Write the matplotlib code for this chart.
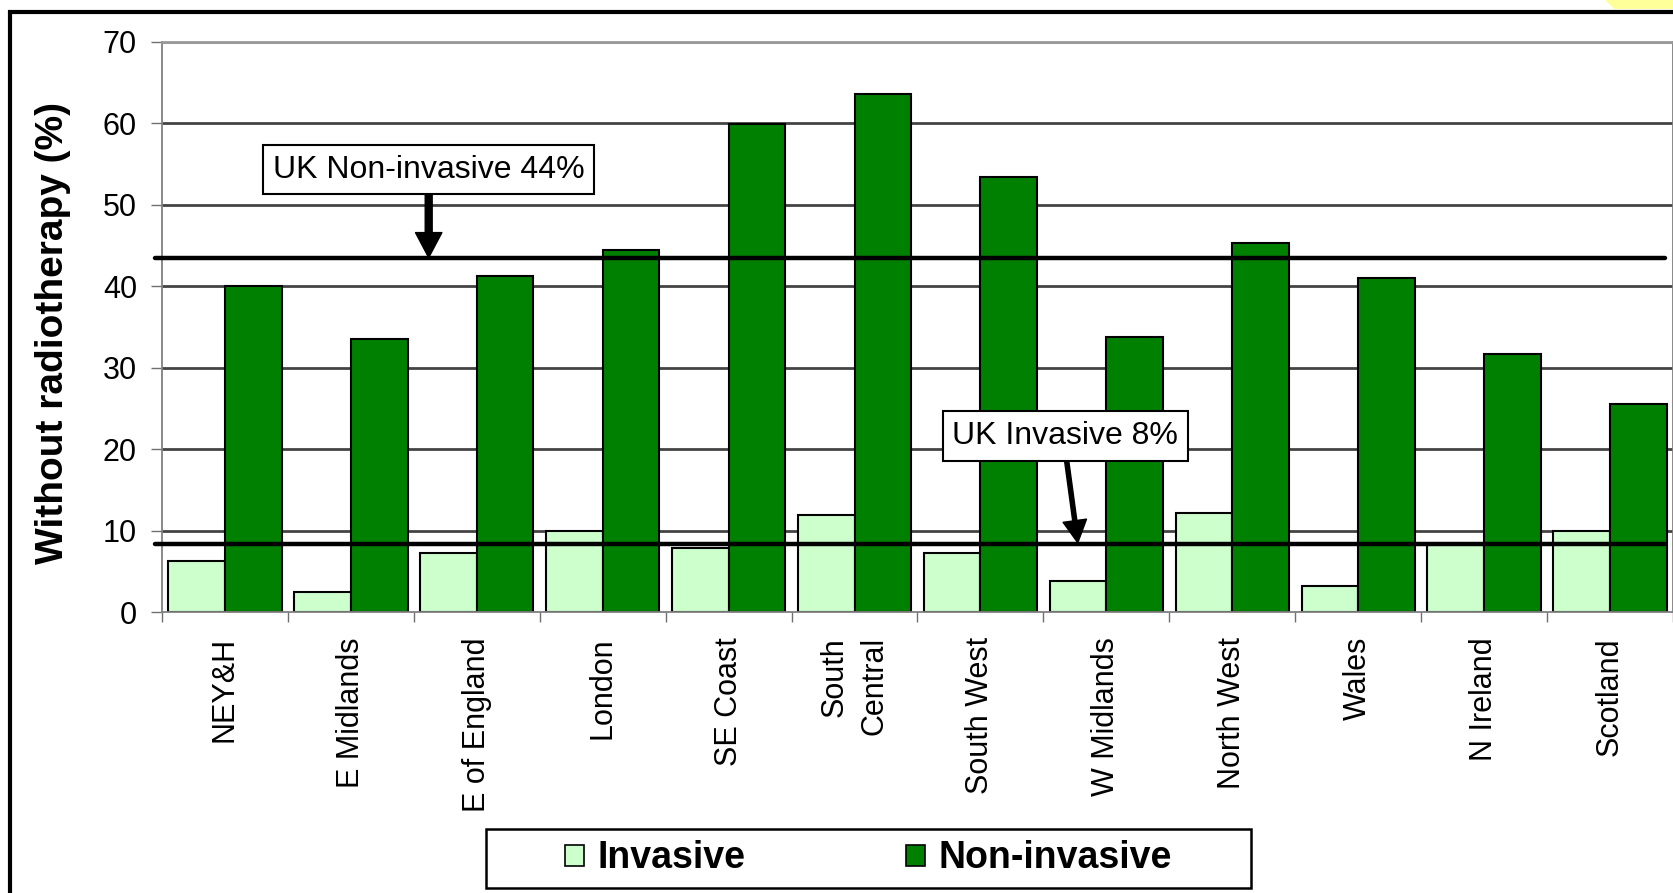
import matplotlib
matplotlib.use('Agg')
import matplotlib.pyplot as plt
from matplotlib.patches import Patch, Rectangle, Polygon
import numpy as np

regions = ['NEY&H', 'E Midlands', 'E of England', 'London', 'SE Coast',
           'South\nCentral', 'South West', 'W Midlands', 'North West',
           'Wales', 'N Ireland', 'Scotland']
invasive = [6.3, 2.5, 7.2, 10.0, 7.8, 11.9, 7.2, 3.8, 12.2, 3.2, 8.3, 10.0]
non_invasive = [40.0, 33.5, 41.2, 44.4, 59.9, 63.6, 53.4, 33.8, 45.3, 41.0, 31.7, 25.5]
uk_invasive = 8.4
uk_non_invasive = 43.5

FONT = ['Liberation Sans', 'DejaVu Sans']
plt.rcParams['font.family'] = FONT

W, H = 1674, 893
fig = plt.figure(figsize=(W / 100, H / 100), dpi=100)
ax = fig.add_axes([162 / W, 1 - 612 / H, 1511 / W, (612 - 41.7) / H])

x = np.arange(len(regions))
bw = 0.45
ax.bar(x - bw / 2, invasive, bw, color='#CCFFCC', edgecolor='black', linewidth=1.5,
       label='Invasive', zorder=2)
ax.bar(x + bw / 2, non_invasive, bw, color='#008000', edgecolor='black', linewidth=1.5,
       label='Non-invasive', zorder=2)

# UK average lines
for val in (uk_invasive, uk_non_invasive):
    ax.axhline(val, xmin=-0.0044, xmax=0.995, color='black', lw=3.2,
               clip_on=False, zorder=4, solid_capstyle='round')

ax.set_xlim(-0.5, len(regions) - 0.5)
ax.set_ylim(0, 70)
ax.set_yticks(range(0, 71, 10))
ax.set_xticks(x)
ax.set_xticklabels(regions, rotation=90, va='top', ha='center')
for lbl in ax.get_xticklabels():
    lbl.set_multialignment('right')
    lbl.set_linespacing(1.4)
ax.set_xticks(np.arange(-0.5, len(regions), 1), minor=True)
ax.tick_params(axis='x', which='major', length=0, pad=18, labelsize=22)
ax.tick_params(axis='x', which='minor', length=7, width=1, color='#707070', direction='out')
ax.tick_params(axis='y', length=8, width=1, color='#707070', pad=10, labelsize=22)

ax.set_axisbelow(True)
ax.yaxis.grid(True, color='#444444', lw=2)
gl = ax.yaxis.get_gridlines()
gl[0].set_visible(False)
gl[-1].set_color('#999999')

for side in ('left', 'right', 'bottom'):
    ax.spines[side].set_color('#808080')
    ax.spines[side].set_linewidth(1.3)
ax.spines['top'].set_color('#999999')
ax.spines['top'].set_linewidth(2)

ax.set_ylabel('Without radiotherapy (%)', fontsize=28, fontweight='bold')
ax.yaxis.set_label_coords(-0.06, 0.49)

box = dict(boxstyle='square,pad=0.3', fc='white', ec='black', lw=1.5)
ax.annotate('UK Non-invasive 44%', xy=(1.618, uk_non_invasive), xytext=(1.618, 54.3),
            fontsize=23, ha='center', va='center', bbox=box, zorder=5,
            arrowprops=dict(width=5, headwidth=19, headlength=18, fc='black',
                            ec='black', shrink=0))
ax.annotate('UK Invasive 8%', xy=(6.773, uk_invasive + 0.1), xytext=(6.674, 21.6),
            fontsize=23, ha='center', va='center', bbox=box, zorder=5,
            arrowprops=dict(width=3, headwidth=17, headlength=16, fc='black',
                            ec='black', shrink=0))

# legend: frame drawn separately, it is much wider than its entries
fig.patches.append(Rectangle((486 / W, 1 - 888 / H), 765 / W, 59 / H, fill=False,
                             ec='black', lw=1.8, transform=fig.transFigure, zorder=8))
handles = [Patch(facecolor='#CCFFCC', edgecolor='black', linewidth=1.2),
           Patch(facecolor='#008000', edgecolor='black', linewidth=1.2)]
fig.legend(handles, ['Invasive', 'Non-invasive'], loc='center',
           bbox_to_anchor=(0.5188, 1 - 858.5 / H), ncol=2,
           prop=dict(family=FONT, weight='bold', size=27),
           handlelength=0.5, handleheight=0.5, handletextpad=0.35,
           columnspacing=4.3, frameon=False)

# outer border and corner decoration
fig.patches.append(Rectangle((9.5 / W, -0.2), 1.5, 1 - 11.7 / H + 0.2, fill=False,
                             ec='black', lw=3, transform=fig.transFigure, zorder=10))
fig.patches.append(Polygon([(1605 / W, 1), (1, 1), (1, 1 - 9 / H), (1614 / W, 1 - 9 / H)],
                           closed=True, fc='#FFFF99', ec='none',
                           transform=fig.transFigure, zorder=9))

fig.savefig('out.png', dpi=100)
